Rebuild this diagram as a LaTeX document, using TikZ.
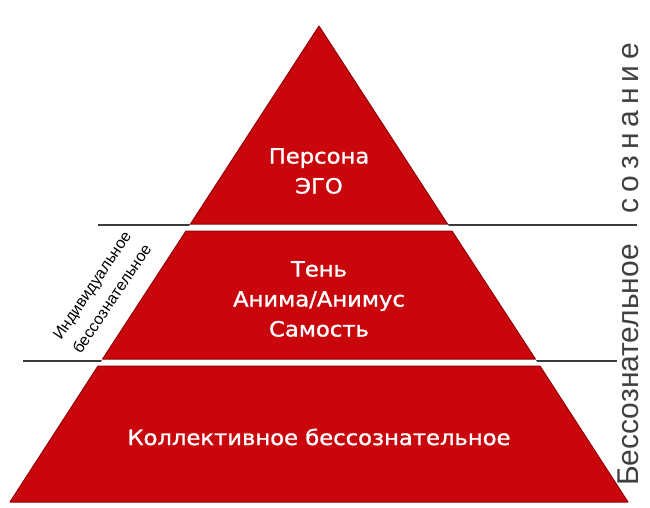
\documentclass[tikz,border=0pt]{standalone}
\usepackage{fontspec}
\newfontfamily\pyrfont{DejaVu Sans}[FakeStretch=1.08, FakeBold=1.2]
\newfontfamily\sidefont{Liberation Sans}
\newfontfamily\spacedfont{Liberation Sans}[LetterSpace=20]
\definecolor{pyrred}{RGB}{200,6,12}
\definecolor{pyrdark}{RGB}{150,0,8}
\definecolor{rulegray}{RGB}{60,60,60}
\tikzset{
  tier/.style={fill=pyrred, draw=pyrdark, line width=1pt, line join=round},
  tiertext/.style={text=white, align=center, font=\pyrfont\fontsize{21}{30}\selectfont},
  divider/.style={draw=rulegray, line width=1.2pt},
  sidetext/.style={text=black!75, anchor=base, rotate=90, font=\sidefont\fontsize{30}{36}\selectfont},
  diagtext/.style={text=black, align=center, rotate=56, font=\sidefont\fontsize{16}{24}\selectfont},
}
\begin{document}
\begin{tikzpicture}[x=1pt, y=-1pt]
            \useasboundingbox (0,0) rectangle (650,507);

            % Divider lines
            \draw[divider] (98,225) -- (637,225);
            \draw[divider] (23,361) -- (617,361);

            % White body of the pyramid hides the lines inside it
            \fill[white] (319,26) -- (10,502) -- (628,502) -- cycle;

            % Three tiers of the pyramid
            \draw[tier] (319,26) -- (190.5,224) -- (447.5,224) -- cycle;
            \draw[tier] (186,231) -- (452,231) -- (535.4,359) -- (102.6,359) -- cycle;
            \draw[tier] (98,366) -- (540,366) -- (628,502) -- (10,502) -- cycle;

            % Tier labels
            \node[tiertext] (upper) at (319,171) {Персона\\ЭГО};
            \node[tiertext] (middle) at (319,299) {Тень\\Анима/Анимус\\Самость};
            \node[tiertext] (lower) at (319,437) {Коллективное бессознательное};

            % Diagonal label along the left edge
            \node[diagtext] (indiv) at (102,292) {Индивидуальное\\бессознательное};

            % Vertical labels on the right
            \node[sidetext] (unconsc) at (638,365) {Бессознательное};
            \node[sidetext, font=\spacedfont\fontsize{30}{36}\selectfont] (consc) at (638,128) {сознание};
        \end{tikzpicture}
\end{document}
